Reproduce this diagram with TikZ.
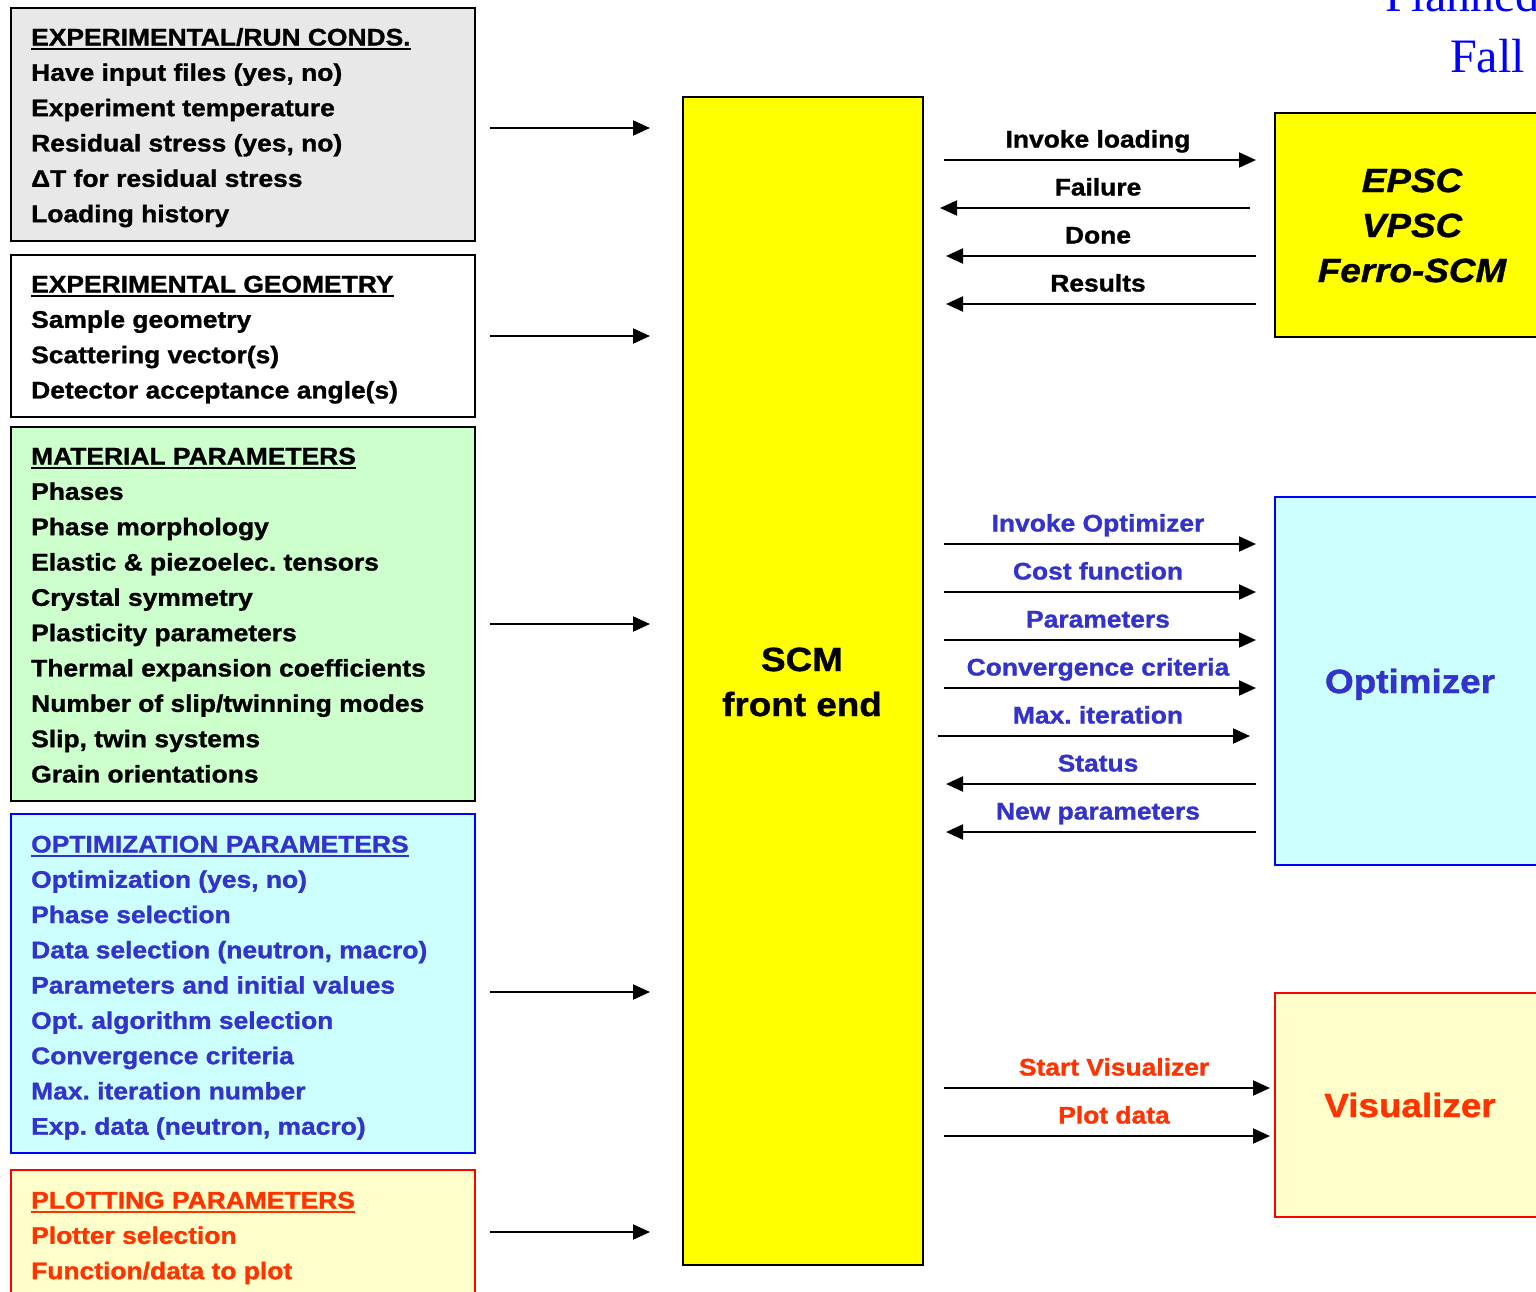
\documentclass[tikz,border=0pt]{standalone}
\usepackage{fontspec}
\setmainfont[FakeStretch=1.1,BoldFeatures={FakeBold=1.2},BoldItalicFeatures={FakeBold=1.2}]{Liberation Sans}
\newfontfamily\serifblue{Liberation Serif}
\usetikzlibrary{arrows.meta}
\definecolor{cgray}{HTML}{E8E8E8}
\definecolor{cgreen}{HTML}{CCFFCC}
\definecolor{ccyan}{HTML}{CCFFFF}
\definecolor{cly}{HTML}{FFFFCC}
\definecolor{cyel}{HTML}{FFFF00}
\definecolor{cblue}{HTML}{0000FF}
\definecolor{ctblue}{HTML}{3333CC}
\definecolor{cred}{HTML}{FF0000}
\definecolor{corange}{HTML}{FF3300}
\frenchspacing
\tikzset{
 box/.style={draw, line width=2pt, anchor=north west, inner sep=0},
 txt/.style={inner sep=0, anchor=base west, font=\fontsize{24}{28}\selectfont\bfseries},
 lbl/.style={inner sep=0, anchor=base, font=\fontsize{24}{28}\selectfont\bfseries},
 big/.style={inner sep=0, anchor=base, font=\fontsize{33.5}{40}\selectfont\bfseries},
 arr/.style={line width=2pt, -{Triangle[length=17pt,width=15pt]}},
 uline/.style={line width=2pt},
}
\begin{document}
\frenchspacing
\begin{tikzpicture}[x=1pt,y=-1pt]
\useasboundingbox (0,0) rectangle (1536,1291);
\clip (0,0) rectangle (1536,1291);
\fill[white] (0,0) rectangle (1536,1291);

% header text (partly cut off)
\node[inner sep=0, anchor=base west, text=cblue, font=\serifblue\fontsize{48}{52}\selectfont] (hd1) at (1385,11) {Planned};
\node[inner sep=0, anchor=base west, text=cblue, font=\serifblue\fontsize{48}{52}\selectfont] (hd2) at (1450,72) {Fall};

% left boxes
\node[box, fill=cgray, minimum width=464pt, minimum height=233pt] (b1) at (10,7) {};
\node[box, fill=white, minimum width=464pt, minimum height=162pt] (b2) at (10,254) {};
\node[box, fill=cgreen, minimum width=464pt, minimum height=374pt] (b3) at (10,426) {};
\node[box, draw=cblue, fill=ccyan, minimum width=464pt, minimum height=339pt] (b4) at (10,813) {};
\node[box, draw=cred, fill=cly, minimum width=464pt, minimum height=140pt] (b5) at (10,1169) {};

% box 1
\node[txt] (t1) at (31,45.5) {EXPERIMENTAL/RUN CONDS.};
\draw[uline] ([yshift=-3pt]t1.base west) -- ([yshift=-3pt]t1.base east);
\foreach \t [count=\i] in {{Have input files (yes, no)},Experiment temperature,{Residual stress (yes, no)},ΔT for residual stress,Loading history}
  \node[txt] (t1l\i) at (31,{45.5+\i*35.33}) {\t};

% box 2
\node[txt] (t2) at (31,292.5) {EXPERIMENTAL GEOMETRY};
\draw[uline] ([yshift=-3pt]t2.base west) -- ([yshift=-3pt]t2.base east);
\foreach \t [count=\i] in {Sample geometry,Scattering vector(s),Detector acceptance angle(s)}
  \node[txt] (t2l\i) at (31,{292.5+\i*35.33}) {\t};

% box 3
\node[txt] (t3) at (31,464.5) {MATERIAL PARAMETERS};
\draw[uline] ([yshift=-3pt]t3.base west) -- ([yshift=-3pt]t3.base east);
\foreach \t [count=\i] in {Phases,Phase morphology,Elastic \& piezoelec. tensors,Crystal symmetry,Plasticity parameters,Thermal expansion coefficients,Number of slip/twinning modes,{Slip, twin systems},Grain orientations}
  \node[txt] (t3l\i) at (31,{464.5+\i*35.33}) {\t};

% box 4
\node[txt, text=ctblue] (t4) at (31,852.5) {OPTIMIZATION PARAMETERS};
\draw[uline, ctblue] ([yshift=-3pt]t4.base west) -- ([yshift=-3pt]t4.base east);
\foreach \t [count=\i] in {{Optimization (yes, no)},Phase selection,{Data selection (neutron, macro)},Parameters and initial values,Opt. algorithm selection,Convergence criteria,Max. iteration number,{Exp. data (neutron, macro)}}
  \node[txt, text=ctblue] (t4l\i) at (31,{852.5+\i*35.27}) {\t};

% box 5
\node[txt, text=corange] (t5) at (31,1208.5) {PLOTTING PARAMETERS};
\draw[uline, corange] ([yshift=-3pt]t5.base west) -- ([yshift=-3pt]t5.base east);
\foreach \t [count=\i] in {Plotter selection,Function/data to plot}
  \node[txt, text=corange] (t5l\i) at (31,{1208.5+\i*35.33}) {\t};

% SCM front end
\node[box, fill=cyel, minimum width=240pt, minimum height=1168pt] (scm) at (682,96) {};
\node[big] (scm1) at (802,671) {SCM};
\node[big] (scm2) at (802,716) {front end};

% left arrows
\foreach \y [count=\i] in {128,336,624,992,1232} {
  \coordinate (ls\i) at (490,\y);
  \coordinate (le\i) at (650,\y);
  \draw[arr] (ls\i) -- (le\i);
}

% right boxes
\node[box, fill=cyel, minimum width=290pt, minimum height=224pt] (epsc) at (1274,112) {};
\node[big, font=\fontsize{33.5}{40}\selectfont\bfseries\itshape] (e1) at (1412,192) {EPSC};
\node[big, font=\fontsize{33.5}{40}\selectfont\bfseries\itshape] (e2) at (1412,237) {VPSC};
\node[big, font=\fontsize{33.5}{40}\selectfont\bfseries\itshape] (e3) at (1412,282) {Ferro-SCM};

\node[box, draw=cblue, fill=ccyan, minimum width=290pt, minimum height=368pt] (opt) at (1274,496) {};
\node[big, text=ctblue] (o1) at (1410,693) {Optimizer};

\node[box, draw=cred, fill=cly, minimum width=290pt, minimum height=224pt] (vis) at (1274,992) {};
\node[big, text=corange] (v1) at (1410,1117) {Visualizer};

% EPSC arrows
\coordinate (a1s) at (944,160); \coordinate (a1e) at (1256,160);
\draw[arr] (a1s) -- (a1e);
\node[lbl] (l1) at (1098,147.5) {Invoke loading};
\coordinate (a2s) at (1250,208); \coordinate (a2e) at (940,208);
\draw[arr] (a2s) -- (a2e);
\node[lbl] (l2) at (1098,195.5) {Failure};
\coordinate (a3s) at (1256,256); \coordinate (a3e) at (946,256);
\draw[arr] (a3s) -- (a3e);
\node[lbl] (l3) at (1098,243.5) {Done};
\coordinate (a4s) at (1256,304); \coordinate (a4e) at (946,304);
\draw[arr] (a4s) -- (a4e);
\node[lbl] (l4) at (1098,291.5) {Results};

% Optimizer arrows
\foreach \y/\t [count=\i] in {544/Invoke Optimizer,592/Cost function,640/Parameters,688/Convergence criteria} {
  \coordinate (os\i) at (944,\y); \coordinate (oe\i) at (1256,\y);
  \draw[arr] (os\i) -- (oe\i);
  \node[lbl, text=ctblue] (ol\i) at (1098,\y-12.5) {\t};
}
\coordinate (os5) at (938,736); \coordinate (oe5) at (1250,736);
\draw[arr] (os5) -- (oe5);
\node[lbl, text=ctblue] (ol5) at (1098,723.5) {Max. iteration};
\foreach \y/\t [count=\i from 6] in {784/Status,832/New parameters} {
  \coordinate (os\i) at (1256,\y); \coordinate (oe\i) at (946,\y);
  \draw[arr] (os\i) -- (oe\i);
  \node[lbl, text=ctblue] (ol\i) at (1098,\y-12.5) {\t};
}

% Visualizer arrows
\foreach \y/\t [count=\i] in {1088/Start Visualizer,1136/Plot data} {
  \coordinate (vs\i) at (944,\y); \coordinate (ve\i) at (1270,\y);
  \draw[arr] (vs\i) -- (ve\i);
  \node[lbl, text=corange] (vl\i) at (1114,\y-12.5) {\t};
}
\end{tikzpicture}
\end{document}
